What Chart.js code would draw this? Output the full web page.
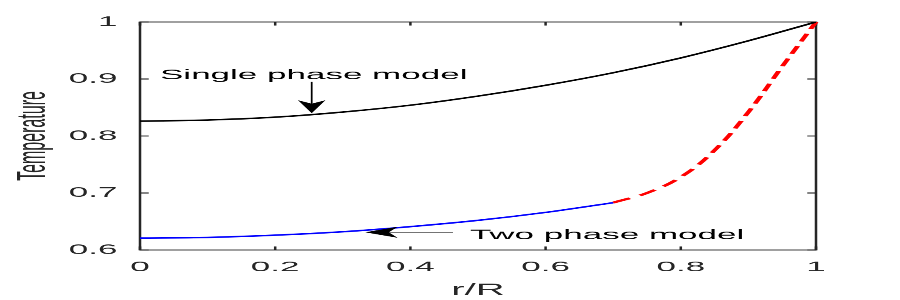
<!DOCTYPE html>
<html><head><meta charset="utf-8">
<script src="https://cdn.jsdelivr.net/npm/chart.js@4"></script>
<style>
html,body{margin:0;padding:0;background:#fff;overflow:hidden;width:900px;height:300px;}
#wrap{position:absolute;left:0;top:0;width:360px;height:300px;transform:scaleX(2.5);transform-origin:0 0;}
canvas{display:block;}
</style></head><body>
<div id="wrap"><canvas id="c" width="360" height="300"></canvas></div>
<script>
// ---- data ----
const singleR = [0, 0.1, 0.2, 0.3, 0.4, 0.5, 0.6, 0.7, 0.8, 0.9, 1.0];
const singleT = [0.826, 0.828, 0.833, 0.842, 0.854, 0.870, 0.889, 0.911, 0.937, 0.967, 1.000];
const twoSolidR = [0, 0.1, 0.2, 0.3, 0.4, 0.5, 0.6, 0.7];
const twoSolidT = [0.621, 0.622, 0.626, 0.632, 0.641, 0.652, 0.666, 0.683];
const twoDashR = [0.7, 0.75, 0.8, 0.85, 0.9, 0.95, 1.0];
const twoDashT = [0.683, 0.700, 0.728, 0.775, 0.842, 0.922, 1.000];
const xTickLabels = ['0', '0.2', '0.4', '0.6', '0.8', '1'];
const yTickLabels = ['0.6', '0.7', '0.8', '0.9', '1'];
const labelSingle = 'Single phase model';
const labelTwo = 'Two phase model';
// annotation anchors in data units
const singleText = {x: 0.0296, y: 0.8995};
const singleArrow = {from: {x: 0.254, y: 0.895}, to: {x: 0.254, y: 0.840}};
const twoText = {x: 0.488, y: 0.6188};
const twoArrow = {from: {x: 0.463, y: 0.631}, to: {x: 0.333, y: 0.631}};

const STRETCH = 2.5;
const TICK = 3.5;
const FONT = '"Liberation Sans", Arial, Helvetica, sans-serif';

function pts(xs, ys) { return xs.map((x, i) => ({x: x, y: ys[i]})); }

function drawArrow(ctx, x0, y0, x1, y1, lineColor) {
  const dx = x1 - x0, dy = y1 - y0;
  const len = Math.hypot(dx, dy);
  const ux = dx / len, uy = dy / len;
  const px = -uy, py = ux;
  const hl = 13, hw = 5.5, notch = 3.5;
  ctx.save();
  ctx.strokeStyle = lineColor; ctx.lineWidth = 0.7;
  ctx.beginPath(); ctx.moveTo(x0, y0);
  ctx.lineTo(x1 - ux * (hl - notch), y1 - uy * (hl - notch)); ctx.stroke();
  ctx.fillStyle = '#000';
  ctx.beginPath();
  ctx.moveTo(x1, y1);
  ctx.lineTo(x1 - ux * hl + px * hw, y1 - uy * hl + py * hw);
  ctx.lineTo(x1 - ux * (hl - notch), y1 - uy * (hl - notch));
  ctx.lineTo(x1 - ux * hl - px * hw, y1 - uy * hl - py * hw);
  ctx.closePath(); ctx.fill();
  ctx.restore();
}

const framePlugin = {
  id: 'frame',
  beforeDatasetsDraw(chart) {
    const {ctx, chartArea: {left, right, top, bottom}, scales: {x, y}} = chart;
    ctx.save();
    ctx.strokeStyle = '#262626'; ctx.lineWidth = 1;
    ctx.beginPath();
    ctx.rect(left, top, right - left, bottom - top);
    ctx.stroke();
    ctx.beginPath();
    x.ticks.forEach(t => {
      const p = x.getPixelForValue(t.value);
      ctx.moveTo(p, bottom); ctx.lineTo(p, bottom - TICK);
      ctx.moveTo(p, top); ctx.lineTo(p, top + TICK);
    });
    y.ticks.forEach(t => {
      const p = y.getPixelForValue(t.value);
      ctx.moveTo(left, p); ctx.lineTo(left + TICK, p);
      ctx.moveTo(right, p); ctx.lineTo(right - TICK, p);
    });
    ctx.stroke();
    ctx.restore();
  },
  afterDatasetsDraw(chart) {
    const {ctx, scales: {x, y}} = chart;
    ctx.save();
    ctx.fillStyle = '#000';
    ctx.font = '14px ' + FONT;
    ctx.textAlign = 'left'; ctx.textBaseline = 'alphabetic';
    ctx.fillText(labelSingle, x.getPixelForValue(singleText.x), y.getPixelForValue(singleText.y));
    ctx.fillText(labelTwo, x.getPixelForValue(twoText.x), y.getPixelForValue(twoText.y));
    ctx.restore();
    drawArrow(ctx, x.getPixelForValue(singleArrow.from.x), y.getPixelForValue(singleArrow.from.y),
      x.getPixelForValue(singleArrow.to.x), y.getPixelForValue(singleArrow.to.y), '#000');
    drawArrow(ctx, x.getPixelForValue(twoArrow.from.x), y.getPixelForValue(twoArrow.from.y),
      x.getPixelForValue(twoArrow.to.x), y.getPixelForValue(twoArrow.to.y), '#555');
  }
};

new Chart(document.getElementById('c'), {
  type: 'line',
  data: {
    datasets: [
      {label: 'Single phase model', data: pts(singleR, singleT), borderColor: '#000000', borderWidth: 1.5,
       pointRadius: 0, cubicInterpolationMode: 'monotone', fill: false},
      {label: 'Two phase model', data: pts(twoSolidR, twoSolidT), borderColor: '#0000ff', borderWidth: 1.5,
       pointRadius: 0, cubicInterpolationMode: 'monotone', fill: false},
      {label: 'Two phase model (extrapolated)', data: pts(twoDashR, twoDashT), borderColor: '#ff0000', borderWidth: 2,
       borderDash: [8, 5], pointRadius: 0, tension: 0.4, fill: false, clip: false}
    ]
  },
  options: {
    responsive: false,
    animation: false,
    devicePixelRatio: STRETCH,
    layout: {padding: {top: 22, right: 33.6, left: 0, bottom: 0}},
    plugins: {legend: {display: false}, tooltip: {enabled: false}},
    scales: {
      x: {
        type: 'linear', min: 0, max: 1,
        grid: {display: false, drawTicks: false}, border: {display: false},
        ticks: {stepSize: 0.2, autoSkip: false, maxRotation: 0, padding: 9, color: '#262626',
                font: {family: FONT, size: 14}, callback: (v, i) => xTickLabels[i]},
        title: {display: true, text: 'r/R', color: '#262626', font: {family: FONT, size: 16},
                padding: {top: 0, bottom: 0}},
        afterFit: s => { s.height = 50; }
      },
      y: {
        type: 'linear', min: 0.6, max: 1,
        grid: {display: false, drawTicks: false}, border: {display: false},
        ticks: {stepSize: 0.1, autoSkip: false, padding: 9, color: '#262626',
                font: {family: FONT, size: 14}, callback: (v, i) => yTickLabels[i]},
        title: {display: true, text: 'Temperature', color: '#262626', font: {family: FONT, size: 16},
                padding: {top: 4, bottom: 0}},
        afterFit: s => { s.width = 56; }
      }
    }
  },
  plugins: [framePlugin]
});
</script>
</body></html>
